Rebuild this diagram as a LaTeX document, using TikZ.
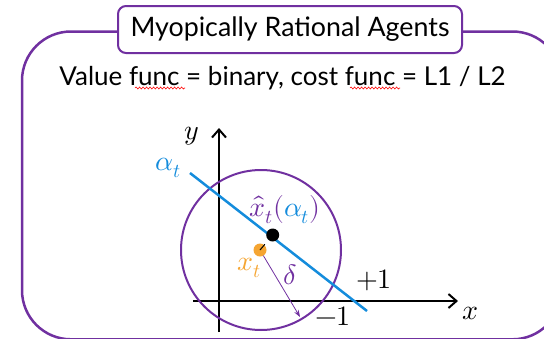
\documentclass[tikz,border=0pt]{standalone}
\usepackage{fontspec}
\usepackage{unicode-math}
\setmainfont{Lato}
\setmathfont{Latin Modern Math}
\usetikzlibrary{arrows.meta,decorations.pathmorphing,calc}
\definecolor{mypurple}{RGB}{112,48,160}
\definecolor{myblue}{RGB}{20,140,220}
\definecolor{myorange}{RGB}{245,165,50}
\tikzset{
  framebox/.style={draw=mypurple,line width=2.5pt,rounded corners=49pt},
  titlebox/.style={draw=mypurple,fill=white,line width=2pt,rounded corners=8pt,minimum width=344pt,minimum height=47pt,inner sep=0pt,
    font=\fontsize{26.8}{30}\selectfont,text height=19pt,text depth=5pt},
  bigtext/.style={font=\fontsize{26}{30}\selectfont,inner sep=0pt},
  mlabel/.style={font=\fontsize{28}{32}\selectfont,inner sep=0pt},
  axis/.style={line width=2pt,-{Straight Barb[length=8pt,width=14pt,line width=2pt]}},
  spell/.style={red,line width=0.6pt,decorate,decoration={snake,amplitude=1pt,segment length=3.5pt}}
}
\begin{document}
\begin{tikzpicture}[x=1pt,y=-1pt]
\useasboundingbox (0,0) rectangle (544,338);
\clip (0,0) rectangle (544,338);
\draw[framebox] (22,31.5) rectangle (561.5,339.3);
\node[titlebox] (title) at (290,29.5) {Myopically Rational Agents};
\node[bigtext,anchor=base] (sub) at (282.5,85) {Value func = binary, cost func = L1 / L2};
\draw[spell] (135,88) -- (185,88);
\draw[spell] (350,88) -- (400,88);
% axes
\coordinate (ys) at (219,332);
\coordinate (ye) at (219,128);
\coordinate (xs) at (193,301);
\coordinate (xe) at (458,301);
\draw[axis] (ys) -- (ye);
\draw[axis] (xs) -- (xe);
% circle
\coordinate (cc) at (261,250);
\draw[mypurple,line width=2pt] (cc) circle[radius=80pt];
% blue line
\coordinate (ls) at (190,173);
\coordinate (le) at (367,311);
\draw[myblue,line width=2.5pt] (ls) -- (le);
% dots
\coordinate (xh) at (272.7,235);
\coordinate (xt) at (260,250);
\fill[black] (xh) circle[radius=6.5pt];
\fill[myorange] (xt) circle[radius=6.5pt];
\draw[black,line width=1pt] (xt) -- ($(xt)!0.38!(xh)$);
\coordinate (dend) at (300,317);
\draw[mypurple,line width=0.8pt,shorten <=6.5pt,-{Stealth[length=7pt,width=5pt]}] (xt) -- (dend);
% labels
\node[mlabel] (ylab) at (192,136) {$y$};
\node[mlabel] (xlab) at (471,313) {$x$};
\node[mlabel,text=myblue] (alab) at (168,168) {$\alpha_t$};
\node[mlabel,text=mypurple] (xhlab) at (285,210) {$\hat{x}_t(\textcolor{myblue}{\alpha_t})$};
\node[mlabel,text=myorange] (xtlab) at (249,268) {$x_t$};
\node[mlabel,text=mypurple] (dlab) at (290,275) {$\delta$};
\node[mlabel] (plab) at (374,280) {$+1$};
\node[mlabel] (mlab) at (333,316) {$-1$};
\end{tikzpicture}
\end{document}
